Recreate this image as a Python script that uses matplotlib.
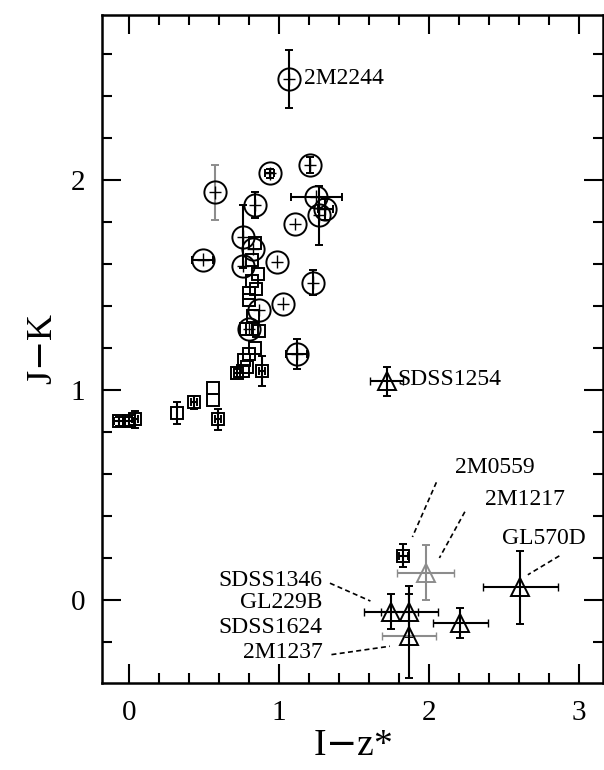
import numpy as np
import matplotlib
matplotlib.use("Agg")
import matplotlib.pyplot as plt
from matplotlib.ticker import MultipleLocator

# circles: x, y, xerr, yerr
circ_x = [1.07, 0.57, 0.94, 1.21, 0.84, 1.25, 1.31, 1.27, 1.11, 0.76, 0.49, 0.99,
          1.23, 1.03, 0.76, 0.87, 1.12, 0.83, 0.80]
circ_y = [2.48, 1.94, 2.03, 2.07, 1.88, 1.92, 1.86, 1.83, 1.79, 1.73, 1.62, 1.61,
          1.51, 1.41, 1.59, 1.38, 1.17, 1.67, 1.29]
circ_xe = [0.0, 0.0, 0.03, 0.0, 0.0, 0.17, 0.05, 0.0, 0.0, 0.0, 0.07, 0.0,
           0.0, 0.0, 0.0, 0.0, 0.07, 0.0, 0.0]
circ_ye = [0.14, 0.13, 0.02, 0.04, 0.06, 0.0, 0.05, 0.14, 0.0, 0.15, 0.0, 0.0,
           0.06, 0.0, 0.0, 0.0, 0.07, 0.0, 0.0]

# squares
sq_x = [-0.07, 0.0, 0.04, 0.32, 0.43, 0.56, 0.56, 0.59, 0.72, 0.76, 0.79, 0.89,
        0.77, 0.80, 0.84, 0.78, 0.82, 0.83, 0.80, 0.85, 0.82, 0.86, 0.82, 0.84,
        0.80, 0.87, 1.83]
sq_y = [0.85, 0.85, 0.86, 0.89, 0.94, 1.01, 0.95, 0.86, 1.08, 1.09, 1.11, 1.09,
        1.14, 1.17, 1.20, 1.29, 1.29, 1.35, 1.43, 1.48, 1.52, 1.55, 1.62, 1.70,
        1.46, 1.28, 0.21]
sq_xe = [0.03, 0.03, 0.02, 0.0, 0.02, 0.0, 0.0, 0.02, 0.02, 0.0, 0.0, 0.02,
         0.0, 0.0, 0.0, 0.0, 0.0, 0.0, 0.0, 0.0, 0.0, 0.0, 0.0, 0.0,
         0.0, 0.0, 0.03]
sq_ye = [0.02, 0.02, 0.04, 0.05, 0.03, 0.0, 0.0, 0.05, 0.02, 0.0, 0.0, 0.07,
         0.0, 0.0, 0.0, 0.0, 0.0, 0.0, 0.0, 0.0, 0.0, 0.0, 0.0, 0.0,
         0.0, 0.0, 0.055]

# triangles (T dwarfs)
tri_x = [1.72, 1.98, 2.61, 1.75, 1.87, 2.21, 1.87]
tri_y = [1.04, 0.13, 0.06, -0.055, -0.055, -0.11, -0.17]
tri_xe = [0.11, 0.19, 0.25, 0.18, 0.19, 0.185, 0.18]
tri_ye = [0.07, 0.13, 0.175, 0.085, 0.12, 0.07, 0.2]
tri_col = ["black", "0.55", "black", "black", "black", "black", "black"]

# labels: text, x, y, ha
lab_txt = ["2M2244", "SDSS1254", "2M0559", "2M1217", "GL570D",
           "SDSS1346", "GL229B", "SDSS1624", "2M1237"]
lab_x = [1.17, 1.79, 2.44, 2.64, 2.77, 1.29, 1.29, 1.29, 1.29]
lab_y = [2.48, 1.05, 0.63, 0.476, 0.295, 0.095, -0.01, -0.13, -0.25]
lab_ha = ["left", "left", "center", "center", "center", "right", "right", "right", "right"]

# leader lines: x0, y0, x1, y1
lead_x0 = [2.05, 2.24, 2.87, 1.34, 1.35]
lead_y0 = [0.56, 0.42, 0.21, 0.08, -0.26]
lead_x1 = [1.89, 2.07, 2.66, 1.61, 1.74]
lead_y1 = [0.30, 0.20, 0.12, -0.005, -0.22]

fig = plt.figure(figsize=(6.04, 7.70), dpi=100)
ax = fig.add_axes([0.169, 0.113, 0.829, 0.868])

for i in range(len(circ_x)):
    ec = "0.55" if i == 1 else "black"
    ax.errorbar(circ_x[i], circ_y[i], xerr=circ_xe[i] or None, yerr=circ_ye[i] or None,
                fmt="o", ms=16, mfc="none", mec="black", mew=1.4,
                ecolor=ec, elinewidth=1.5, capsize=3)
    # small cross inside each circle
    ax.errorbar(circ_x[i], circ_y[i], xerr=0.04, yerr=0.03, fmt="none",
                ecolor="black", elinewidth=1.0)

for i in range(len(sq_x)):
    ax.errorbar(sq_x[i], sq_y[i], xerr=sq_xe[i] or None, yerr=sq_ye[i] or None,
                fmt="s", ms=9, mfc="none", mec="black", mew=1.4,
                ecolor="black", elinewidth=1.5, capsize=3)

for i in range(len(tri_x)):
    xc = "0.55" if i in (1, 6) else tri_col[i]
    ax.errorbar(tri_x[i], tri_y[i], xerr=tri_xe[i], fmt="none",
                ecolor=xc, elinewidth=1.5, capsize=3)
    ax.errorbar(tri_x[i], tri_y[i], yerr=tri_ye[i], fmt="^", ms=13,
                mfc="none", mec=tri_col[i], mew=1.4,
                ecolor=tri_col[i], elinewidth=1.5, capsize=3)

for t, x, y, ha in zip(lab_txt, lab_x, lab_y, lab_ha):
    ax.text(x, y, t, ha=ha, va="center", fontsize=17, family="Liberation Serif")

for x0, y0, x1, y1 in zip(lead_x0, lead_y0, lead_x1, lead_y1):
    ax.plot([x0, x1], [y0, y1], ls=(0, (3, 2)), color="black", lw=1.2)

ax.set_xlim(-0.18, 3.16)
ax.set_ylim(-0.395, 2.786)
ax.xaxis.set_major_locator(MultipleLocator(1))
ax.xaxis.set_minor_locator(MultipleLocator(0.2))
ax.yaxis.set_major_locator(MultipleLocator(1))
ax.yaxis.set_minor_locator(MultipleLocator(0.2))
ax.tick_params(which="both", direction="in", top=True, right=True, width=1.5,
               labelsize=21, pad=12)
ax.tick_params(which="major", length=14)
ax.tick_params(which="minor", length=7)
for lab in ax.get_xticklabels() + ax.get_yticklabels():
    lab.set_family("Liberation Serif")
for s in ax.spines.values():
    s.set_linewidth(1.8)

ax.set_xlabel("I$-$z*", fontsize=27, family="Liberation Serif", labelpad=2)
ax.set_ylabel("J$-$K", fontsize=26, family="Liberation Serif", labelpad=8)

fig.savefig("out.png", dpi=100)
